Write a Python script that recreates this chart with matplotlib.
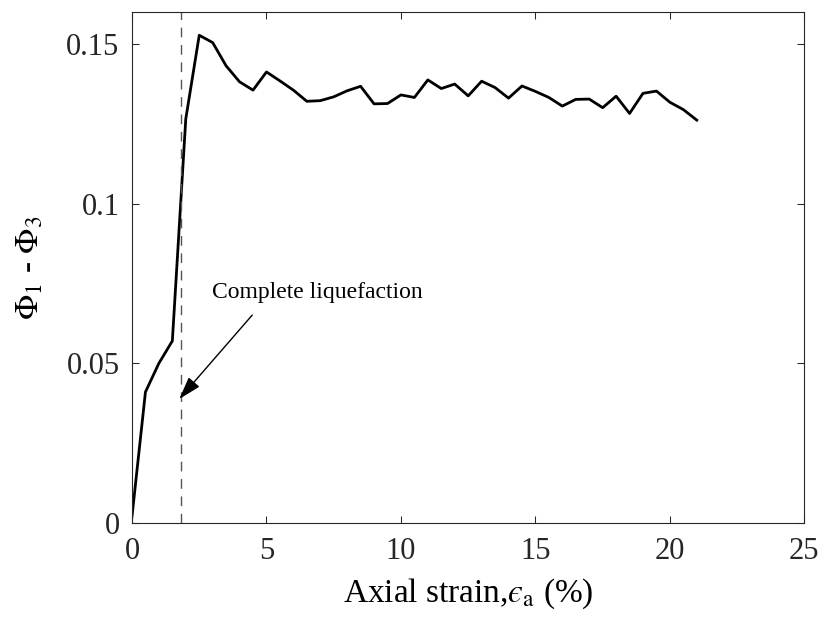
import matplotlib
matplotlib.use('Agg')
from matplotlib import pyplot as plt

# axial strain (%) and stress difference
strain = [0.0, 0.5, 1.0, 1.5, 2.0, 2.5, 3.0, 3.5, 4.0, 4.5, 5.0, 5.5, 6.0, 6.5,
          7.0, 7.5, 8.0, 8.5, 9.0, 9.5, 10.0, 10.5, 11.0, 11.5, 12.0, 12.5,
          13.0, 13.5, 14.0, 14.5, 15.0, 15.5, 16.0, 16.5, 17.0, 17.5, 18.0,
          18.5, 19.0, 19.5, 20.0, 20.5, 21.0]
phi_diff = [0.002, 0.041, 0.050, 0.057, 0.1266, 0.1528, 0.1505, 0.1432, 0.1382,
            0.1356, 0.1413, 0.1385, 0.1356, 0.1321, 0.1323, 0.1335, 0.1354,
            0.1368, 0.1313, 0.1314, 0.1341, 0.1333, 0.1388, 0.1361, 0.1375,
            0.1338, 0.1384, 0.1364, 0.1331, 0.1369, 0.1352, 0.1333, 0.1306,
            0.1327, 0.1328, 0.1301, 0.1337, 0.1283, 0.1346, 0.1353, 0.1318,
            0.1295, 0.1262]

liq_strain = 1.81
xticks = [0, 5, 10, 15, 20, 25]
yticks = [0, 0.05, 0.1, 0.15]
ytick_labels = ['0', '0.05', '0.1', '0.15']

plt.rcParams['font.family'] = 'Liberation Serif'
plt.rcParams['mathtext.fontset'] = 'stix'

fig = plt.figure(figsize=(8.25, 6.23), dpi=100)
ax = fig.add_axes([0.16, 0.1608, 0.815, 0.8195])

ax.plot(strain, phi_diff, color='black', lw=2.0)
ax.axvline(liq_strain, color='#555555', lw=1.0, dashes=(7, 5.5))

ax.text(2.96, 0.0706, 'Complete liquefaction', fontsize=17, ha='left', va='baseline')
ax.annotate('', xy=(1.76, 0.0388), xytext=(4.47, 0.0651),
            arrowprops=dict(arrowstyle='-|>,head_length=0.7,head_width=0.22',
                            color='black', lw=1.0, shrinkA=0, shrinkB=0,
                            mutation_scale=20))

ax.set_xlim(0, 25)
ax.set_ylim(0, 0.16)
ax.set_xticks(xticks)
ax.set_yticks(yticks)
ax.set_yticklabels(ytick_labels)
ax.tick_params(axis='both', which='major', labelsize=22, direction='in',
               length=5, width=0.75, top=True, right=True, colors='#262626')
ax.tick_params(axis='x', pad=10)
ax.tick_params(axis='y', pad=9)
for sp in ax.spines.values():
    sp.set_linewidth(0.8)
    sp.set_color('#262626')

ax.set_xlabel('Axial strain,$\u03f5_{\\rm a}$ (%)', fontsize=24, labelpad=8)
ax.set_ylabel(r'$\Phi_{\rm 1}$ - $\Phi_{\rm 3}$', fontsize=24, labelpad=15)

plt.savefig('out.png', dpi=100)
